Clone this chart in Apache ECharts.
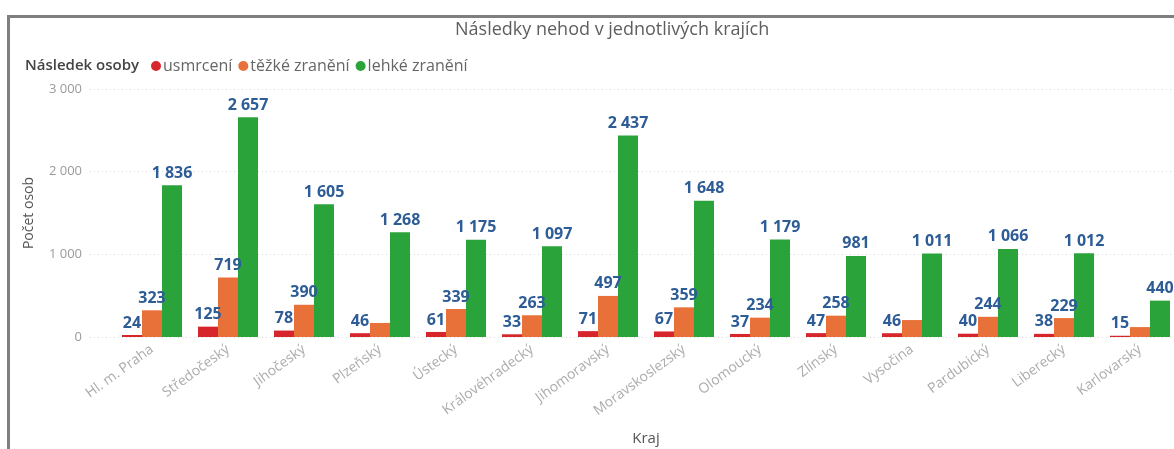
<!DOCTYPE html>
<html>
<head>
<meta charset="utf-8">
<script src="https://cdn.jsdelivr.net/npm/echarts@6/dist/echarts.min.js"></script>
<style>
  html, body { margin: 0; padding: 0; background: #ffffff; }
  #chart { width: 1174px; height: 449px; }
</style>
</head>
<body>
<div id="chart"></div>
<script>
// Traffic accident casualties by region
const regions = ['Hl. m. Praha', 'Středočeský', 'Jihočeský', 'Plzeňský', 'Ústecký', 'Královéhradecký',
  'Jihomoravský', 'Moravskoslezský', 'Olomoucký', 'Zlínský', 'Vysočina', 'Pardubický', 'Liberecký', 'Karlovarský'];
const killed = [24, 125, 78, 46, 61, 33, 71, 67, 37, 47, 46, 40, 38, 15];
const seriouslyInjured = [323, 719, 390, 170, 339, 263, 497, 359, 234, 258, 205, 244, 229, 120];
const slightlyInjured = [1836, 2657, 1605, 1268, 1175, 1097, 2437, 1648, 1179, 981, 1011, 1066, 1012, 440];
const seriesNames = ['usmrcení', 'těžké zranění', 'lehké zranění'];
const yTicks = [0, 1000, 2000, 3000];
// regions where the "těžké zranění" value label is omitted to avoid collisions
const unlabeledSerious = ['Plzeňský', 'Vysočina', 'Karlovarský'];

const FONT = 'Open Sans';
const colors = ['#D7262B', '#E8713A', '#2AA33B'];

const fmt = v => String(v).replace(/\B(?=(\d{3})+(?!\d))/g, ' ');

function makeSeries(name, values, color, hidden) {
  return {
    name: name,
    type: 'bar',
    xAxisIndex: 1,
    yAxisIndex: 1,
    barWidth: 20,
    barGap: '0%',
    itemStyle: { color: color },
    label: {
      show: true,
      position: 'top',
      distance: 4,
      color: '#2D5C96',
      fontFamily: FONT,
      fontWeight: 'bold',
      fontSize: 16,
      formatter: p => fmt(p.value)
    },
    data: values.map((v, i) => hidden.includes(regions[i]) ? { value: v, label: { show: false } } : v)
  };
}

const chart = echarts.init(document.getElementById('chart'), null, { renderer: 'canvas' });

chart.setOption({
  animation: false,
  backgroundColor: '#ffffff',
  color: colors,
  title: [
    {
      text: 'Následky nehod v jednotlivých krajích',
      left: 450, top: 16,
      textStyle: { fontFamily: FONT, fontSize: 18, fontWeight: 'normal', color: '#5e5e5e' }
    },
    {
      text: 'Následek osoby',
      left: 20, top: 53,
      textStyle: { fontFamily: FONT, fontSize: 15, fontWeight: 600, color: '#444444' }
    }
  ],
  legend: {
    left: 146, top: 53,
    icon: 'circle',
    itemWidth: 10, itemHeight: 10, itemGap: 6,
    textStyle: { fontFamily: FONT, fontSize: 16, color: '#666666', padding: [0, 0, 0, -3] },
    data: seriesNames
  },
  graphic: [
    { type: 'line', shape: { x1: 8, y1: 16.5, x2: 1174, y2: 16.5 }, style: { stroke: '#7f7f7f', lineWidth: 3 } },
    { type: 'line', shape: { x1: 8.5, y1: 15, x2: 8.5, y2: 449 }, style: { stroke: '#7f7f7f', lineWidth: 3 } }
  ],
  grid: [
    { left: 90, top: 89, width: 1090, height: 248, outerBoundsMode: 'none' },
    { left: 114, top: 89, width: 1064, height: 248, outerBoundsMode: 'none' }
  ],
  xAxis: [
    { gridIndex: 0, type: 'value', show: false },
    {
      gridIndex: 1,
      type: 'category',
      data: regions,
      name: 'Kraj',
      nameLocation: 'middle',
      nameGap: 94,
      nameTextStyle: { fontFamily: FONT, fontSize: 15, color: '#555555' },
      axisLine: { show: false },
      axisTick: { show: false },
      axisLabel: { rotate: 36, margin: 11, fontFamily: FONT, fontSize: 14, color: '#acacac', interval: 0 }
    }
  ],
  yAxis: [
    {
      gridIndex: 0,
      type: 'value',
      min: yTicks[0],
      max: yTicks[yTicks.length - 1],
      interval: yTicks[1] - yTicks[0],
      name: 'Počet osob',
      nameLocation: 'middle',
      nameGap: 54,
      nameTextStyle: { fontFamily: FONT, fontSize: 14, color: '#555555' },
      axisLine: { show: false },
      axisTick: { show: false },
      axisLabel: { margin: 8, fontFamily: FONT, fontSize: 13, color: '#9a9a9a', formatter: v => fmt(v) },
      splitLine: { show: true, lineStyle: { color: '#d8d8d8', type: [1, 3], width: 1 } }
    },
    {
      gridIndex: 1,
      type: 'value',
      min: yTicks[0],
      max: yTicks[yTicks.length - 1],
      interval: yTicks[1] - yTicks[0],
      show: false,
      splitLine: { show: false }
    }
  ],
  series: [
    makeSeries(seriesNames[0], killed, colors[0], []),
    makeSeries(seriesNames[1], seriouslyInjured, colors[1], unlabeledSerious),
    makeSeries(seriesNames[2], slightlyInjured, colors[2], [])
  ]
});
</script>
</body>
</html>
